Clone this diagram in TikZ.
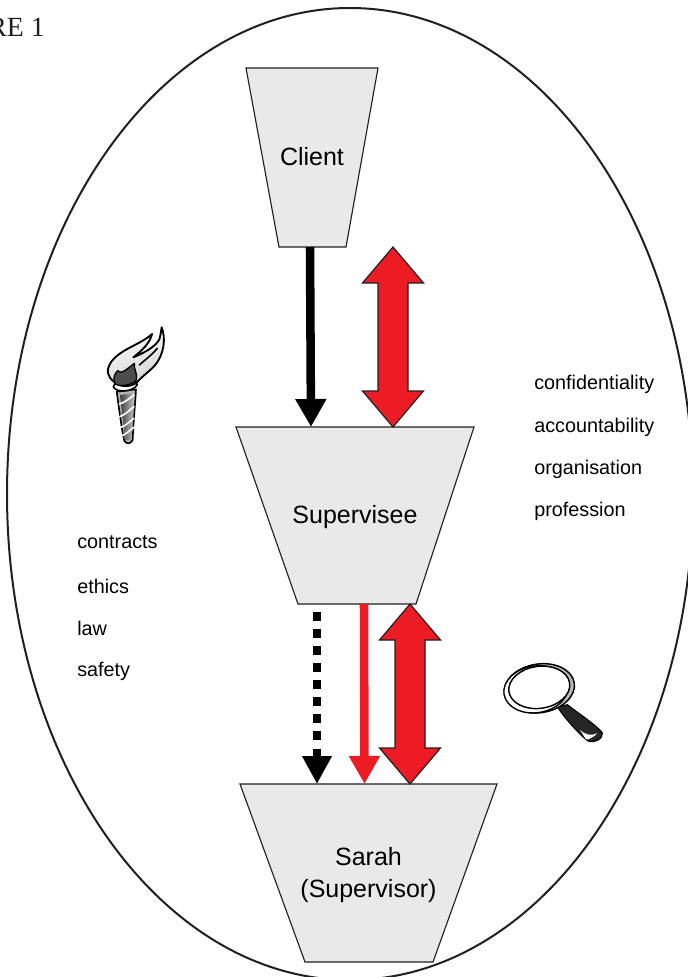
\documentclass[tikz,border=0pt]{standalone}
\usepackage{fontspec}
\setmainfont{Liberation Sans}
\newfontfamily\capfont{Liberation Serif}
\usetikzlibrary{arrows.meta,calc}
\definecolor{boxgray}{HTML}{E9E9E9}
\definecolor{arrowred}{HTML}{ED1C24}
\definecolor{inkline}{HTML}{231F20}
\tikzset{
  funnel/.style={draw=inkline,fill=boxgray,line width=0.85pt,line join=miter},
  funneltext/.style={inner sep=0pt,align=center,text=black,font=\fontsize{18.75}{24}\selectfont},
  tag/.style={anchor=base west,inner sep=0pt,text=black,font=\fontsize{14.85}{18}\selectfont},
  solidflow/.style={line width=6.4pt,black,-{Triangle[length=21pt,width=22pt]}},
  dottedflow/.style={line width=6.4pt,black,dash pattern=on 6.4pt off 6.4pt,-{Triangle[length=21pt,width=21pt]}},
  redflow/.style={line width=6.4pt,arrowred,-{Triangle[length=21pt,width=22pt]}},
  twoway/.style={draw=inkline,fill=arrowred,line width=0.9pt,line join=miter},
  inkstroke/.style={draw=black,line width=1.2pt,line join=round,line cap=round},
}
% name, top-left x, top-right x, bottom-right x, bottom-left x, top y, bottom y
\newcommand{\funnelbox}[7]{%
  \draw[funnel] (#2,#6) -- (#3,#6) -- (#4,#7) -- (#5,#7) -- cycle;
  \coordinate (#1-top) at ({(#2+#3)/2},#6);
  \coordinate (#1-bot) at ({(#4+#5)/2},#7);}
\newcommand{\twowayarrow}[2]{%
  \draw[twoway] (#1) -- ++(30.5,36) -- ++(-15.5,0) -- ($(#2)+(15,-36)$) -- ++(15.5,0) -- (#2)
    -- ++(-30.5,-36) -- ++(15.5,0) -- ($(#1)+(-15,36)$) -- ++(-15.5,0) -- cycle;}
\begin{document}
\begin{tikzpicture}[x=0.75pt,y=-0.75pt]
\useasboundingbox (0,0) rectangle (688,977);
\clip (0,0) rectangle (688,977);
\fill[white] (0,0) rectangle (688,977);
\node[anchor=base east,inner sep=0pt,text=inkline,font=\capfont\fontsize{20.8}{24}\selectfont] (figlabel) at (45,37) {RE 1};
\draw[inkline,line width=1.5pt] (350,494) ellipse [x radius=343,y radius=486];

\funnelbox{client}{246}{378}{346}{279}{68}{247}
\funnelbox{supervisee}{236}{474}{416}{298}{427}{604}
\funnelbox{sarah}{240}{497}{433}{305}{784}{962}
\node[funneltext] (clientlabel) at (312,156.5) {Client};
\node[funneltext] (superviseelabel) at (355,517) {Supervisee};
\node[funneltext] (sarahlabel) at (368.5,875.5) {Sarah\\(Supervisor)};

% client to supervisee
\draw[solidflow] (client-bot -| 310,0) -- (supervisee-top -| 311,0);
\twowayarrow{client-bot -| 393,0}{supervisee-top -| 393,0}
% supervisee to sarah
\coordinate (dotstart) at (317,612);
\draw[dottedflow] (dotstart) -- (sarah-top -| 317,0);
\draw[redflow] (supervisee-bot -| 364,0) -- (sarah-top -| 364.5,0);
\twowayarrow{supervisee-bot -| 410,0}{sarah-top -| 410,0}

\node[tag] (w1) at (534,389) {confidentiality};
\node[tag] (w2) at (534,432) {accountability};
\node[tag] (w3) at (534,474) {organisation};
\node[tag] (w4) at (534,516) {profession};
\node[tag] (w5) at (77,548) {contracts};
\node[tag] (w6) at (77,593) {ethics};
\node[tag] (w7) at (77,635) {law};
\node[tag] (w8) at (77,676) {safety};

% torch
\begin{scope}[shift={(80,310)},x=0.25pt,y=-0.25pt]
  \draw[inkstroke,fill=gray!60] (110,245) .. controls (118,300) and (125,360) .. (133,393)
     .. controls (140,403) and (152,402) .. (158,390) .. controls (160,340) and (165,290) .. (168,238) -- cycle;
  \shade[left color=gray!50!black,right color=gray!50] (120,255) -- (162,250) -- (155,388) -- (135,392) -- cycle;
  \foreach \ya/\yb in {282/255,320/290,354/325,380/352}
    \draw[white,line width=1.2pt,line cap=round] (118,\ya) .. controls (135,\ya-4) and (150,\yb+8) .. (162,\yb);
  \draw[inkstroke,fill=white] (100,230) .. controls (108,250) and (160,246) .. (172,224)
     .. controls (170,212) and (100,212) .. (100,230) -- cycle;
  \shade[draw=black,line width=1.4pt,line join=round,top color=white,bottom color=gray!35,shading angle=20]
     (103,216) .. controls (82,200) and (76,182) .. (94,155)
     .. controls (125,115) and (180,105) .. (216,72)
     .. controls (210,100) and (185,122) .. (160,142)
     .. controls (195,128) and (228,108) .. (238,88)
     .. controls (243,72) and (243,60) .. (245,52)
     .. controls (258,85) and (252,130) .. (228,162)
     .. controls (212,182) and (190,195) .. (170,218)
     .. controls (150,232) and (120,232) .. (103,216) -- cycle;
  \draw[inkstroke] (178,165) .. controls (195,150) and (215,135) .. (232,115);
  \draw[inkstroke,fill=gray!60!black,line width=1pt] (105,222) .. controls (98,205) and (103,192) .. (113,182)
     .. controls (122,195) and (140,178) .. (163,160)
     .. controls (160,178) and (175,190) .. (168,212)
     .. controls (150,228) and (120,230) .. (105,222) -- cycle;
\end{scope}

% magnifying glass
\begin{scope}[shift={(480,650)},x=0.25pt,y=-0.25pt]
  \draw[fill=black!85,line width=0.8pt] (233,172) .. controls (255,205) and (290,245) .. (322,272)
     .. controls (342,282) and (372,265) .. (367,248)
     .. controls (345,222) and (295,190) .. (262,164) -- cycle;
  \fill[white] (300,240) .. controls (315,255) and (335,258) .. (352,250) .. controls (340,262) and (325,270) .. (318,268) -- cycle;
  \draw[black,line width=1.1pt,fill=gray!55,rotate around={9:(178,115)}] (178,115) ellipse [x radius=106,y radius=73];
  \draw[black,line width=1pt,fill=white,rotate around={9:(168,118)}] (168,118) ellipse [x radius=97,y radius=70];
  \draw[black,line width=1.1pt,fill=white,rotate around={8:(178,113)}] (178,112) ellipse [x radius=92,y radius=63];
\end{scope}
\end{tikzpicture}
\end{document}
